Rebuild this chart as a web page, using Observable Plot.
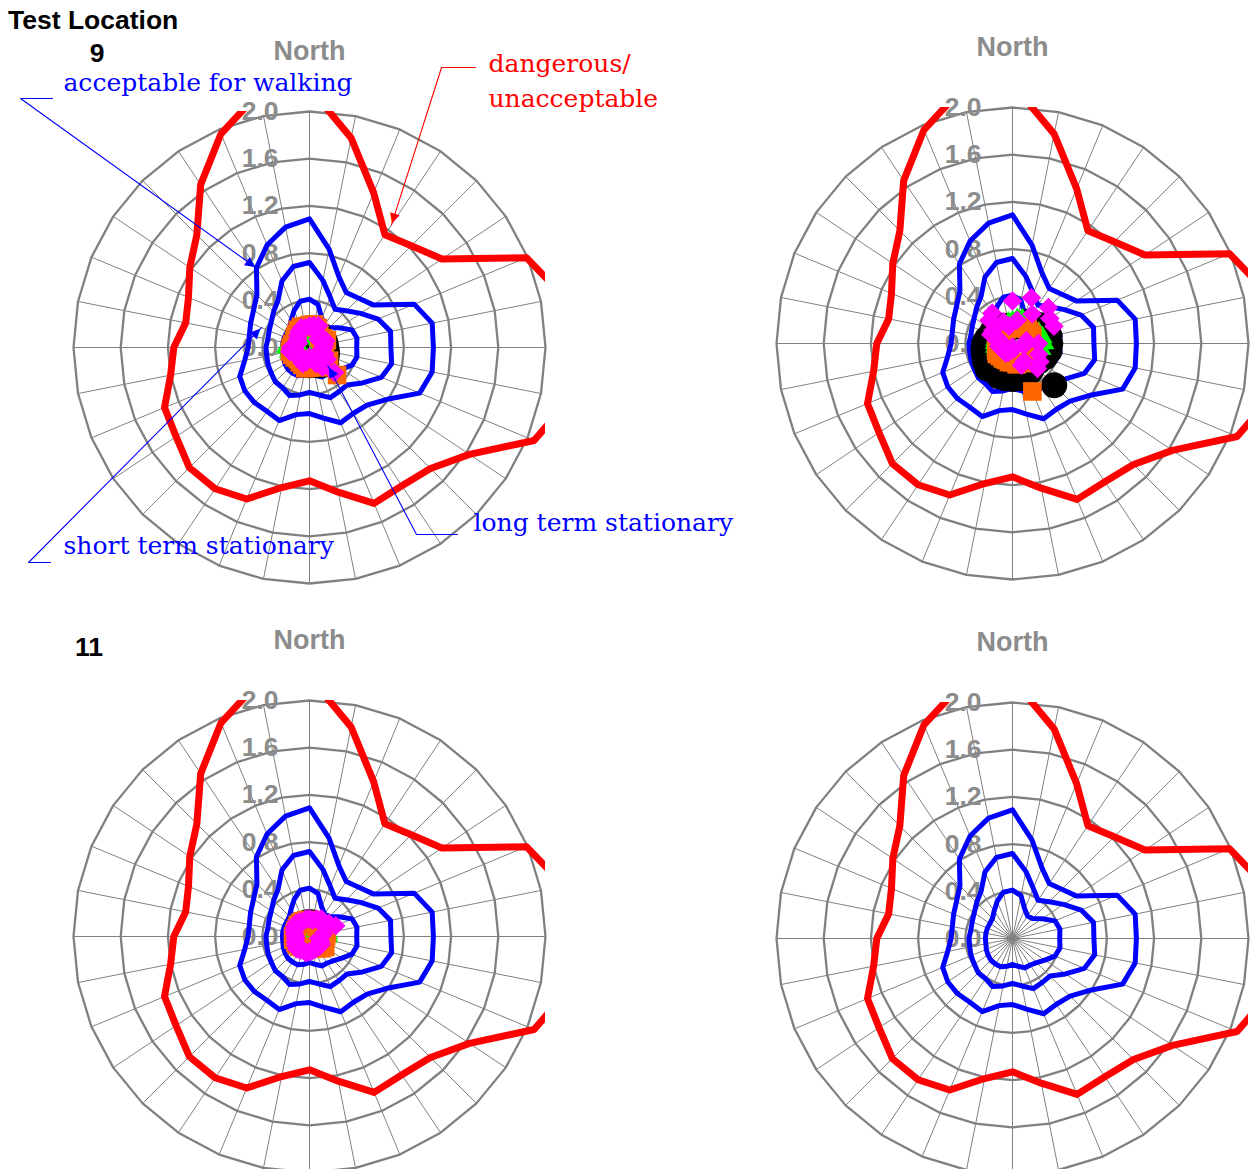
<!DOCTYPE html>
<html>
<head>
<meta charset="utf-8">
<script src="https://cdn.jsdelivr.net/npm/d3@7"></script>
<script src="https://cdn.jsdelivr.net/npm/@observablehq/plot@0.6"></script>
<style>
html,body{margin:0;padding:0;background:#fff;}
body{width:1250px;height:1169px;position:relative;overflow:hidden;font-family:"Liberation Sans",Arial,sans-serif;}
.panel{position:absolute;width:492px;height:557px;}
.panel svg{max-width:none !important;width:492px;height:557px;}
.hdr{position:absolute;font-weight:bold;color:#000;line-height:1;white-space:nowrap;font-size:26.5px;}
</style>
</head>
<body>
<div class="hdr" id="title" style="left:8px;top:7px;"></div>
<div class="hdr" id="loc0" style="left:97px;top:40px;transform:translateX(-50%);"></div>
<div class="hdr" id="loc1" style="left:89px;top:634px;transform:translateX(-50%);"></div>
<div id="ul" class="panel" style="left:63px;top:36px;"></div>
<div id="ur" class="panel" style="left:766px;top:32px;"></div>
<div id="ll" class="panel" style="left:63px;top:625px;"></div>
<div id="lr" class="panel" style="left:766px;top:627px;"></div>
<script>
// ---------- data ----------
const titleText = "Test Location";
const locationLabels = ["9", "11"];
const axisLabel = "North";
const directions = d3.range(32).map(i => i * 11.25); // compass bearings, clockwise from North
const ringValues = [0.4, 0.8, 1.2, 1.6, 2.0];
const tickValues = [0, 0.4, 0.8, 1.2, 1.6, 2.0];
const tickLabels = ["0.0", "0.4", "0.8", "1.2", "1.6", "2.0"];

// criteria contours (32 directions)
const dangerous = [2.2, 1.81, 1.42, 1.15, 1.22, 1.35, 1.99, 2.2, 2.3, 2.25, 2.06, 1.63, 1.45, 1.41, 1.43, 1.25,
                   1.13, 1.21, 1.39, 1.44, 1.44, 1.36, 1.33, 1.2, 1.15, 1.07, 1.11, 1.22, 1.35, 1.66, 1.96, 2.2];
const walking   = [1.09, 0.85, 0.65, 0.56, 0.59, 0.65, 0.96, 1.06, 1.05, 1.06, 1.01, 0.79, 0.69, 0.67, 0.69, 0.61,
                   0.56, 0.58, 0.67, 0.65, 0.66, 0.66, 0.64, 0.56, 0.52, 0.52, 0.54, 0.57, 0.63, 0.81, 0.94, 1.04];
const shortTerm = [0.72, 0.58, 0.46, 0.39, 0.44, 0.52, 0.63, 0.70, 0.69, 0.71, 0.66, 0.54, 0.45, 0.45, 0.46, 0.41,
                   0.38, 0.41, 0.44, 0.41, 0.41, 0.39, 0.38, 0.37, 0.37, 0.36, 0.37, 0.39, 0.43, 0.48, 0.61, 0.70];
const longTerm  = [0.41, 0.37, 0.27, 0.23, 0.24, 0.30, 0.39, 0.41, 0.40, 0.41, 0.39, 0.33, 0.29, 0.27, 0.27, 0.24,
                   0.22, 0.24, 0.26, 0.26, 0.26, 0.25, 0.24, 0.23, 0.23, 0.23, 0.23, 0.23, 0.24, 0.28, 0.34, 0.40];

// measured points, upper-left panel (location 9)
const ulBlack   = [0.16, 0.16, 0.15, 0.14, 0.13, 0.13, 0.14, 0.14, 0.14, 0.15, 0.16, 0.17, 0.20, 0.18, 0.16, 0.15,
                   0.15, 0.15, 0.14, 0.14, 0.14, 0.13, 0.12, 0.12, 0.12, 0.12, 0.12, 0.13, 0.14, 0.15, 0.16, 0.16];
const ulGreen   = [0.12, 0.11, 0.10, 0.10, 0.10, 0.10, 0.10, 0.10, 0.10, 0.10, 0.10, 0.10, 0.10, 0.10, 0.10, 0.10,
                   0.10, 0.10, 0.10, 0.10, 0.10, 0.12, 0.15, 0.18, 0.20, 0.15, 0.12, 0.12, 0.12, 0.12, 0.12, 0.12];
const ulOrange  = [0.19, 0.20, 0.18, 0.15, 0.12, 0.14, 0.16, 0.12, 0.10, 0.12, 0.14, 0.20, 0.33, 0.20, 0.18, 0.16,
                   0.17, 0.18, 0.16, 0.15, 0.14, 0.15, 0.16, 0.17, 0.16, 0.15, 0.14, 0.15, 0.16, 0.18, 0.19, 0.18];
const ulMagenta = [0.18, 0.19, 0.20, 0.14, 0.10, 0.12, 0.15, 0.13, 0.12, 0.10, 0.14, 0.18, 0.30, 0.20, 0.15, 0.10,
                   0.08, 0.12, 0.15, 0.13, 0.12, 0.10, 0.14, 0.17, 0.16, 0.12, 0.10, 0.12, 0.14, 0.16, 0.18, 0.17];
// upper-right panel
const urBlack   = [0.14, 0.15, 0.18, 0.22, 0.25, 0.28, 0.30, 0.32, 0.32, 0.32, 0.30, 0.27, 0.50, 0.28, 0.28, 0.30,
                   0.30, 0.30, 0.30, 0.28, 0.30, 0.28, 0.26, 0.25, 0.24, 0.22, 0.20, 0.20, 0.20, 0.18, 0.16, 0.15];
const urGreen   = [0.19, 0.21, 0.22, 0.21, 0.20, 0.22, 0.24, 0.26, 0.27, 0.25, 0.22, 0.20, 0.20, 0.20, 0.19, 0.18,
                   0.18, 0.17, 0.17, 0.16, 0.16, 0.16, 0.15, 0.15, 0.15, 0.15, 0.15, 0.15, 0.16, 0.16, 0.17, 0.18];
const urOrange  = [0.13, 0.14, 0.15, 0.16, 0.18, 0.18, 0.18, 0.17, 0.17, 0.17, 0.18, 0.20, 0.22, 0.20, 0.44, 0.18,
                   0.16, 0.16, 0.15, 0.15, 0.15, 0.16, 0.15, 0.13, 0.12, 0.12, 0.12, 0.13, 0.14, 0.13, 0.13, 0.13];
const urMagenta = [0.36, 0.20, 0.42, 0.30, 0.43, 0.38, 0.38, 0.12, 0.22, 0.10, 0.24, 0.28, 0.30, 0.18, 0.20, 0.05,
                   0.03, 0.05, 0.08, 0.10, 0.09, 0.10, 0.10, 0.12, 0.09, 0.10, 0.20, 0.20, 0.28, 0.31, 0.20, 0.15];
// lower-left panel (location 11)
const llBlack   = [0.12, 0.12, 0.11, 0.10, 0.10, 0.10, 0.10, 0.10, 0.10, 0.10, 0.09, 0.09, 0.08, 0.08, 0.07, 0.07,
                   0.07, 0.07, 0.07, 0.08, 0.08, 0.09, 0.10, 0.10, 0.10, 0.10, 0.10, 0.11, 0.11, 0.12, 0.12, 0.12];
const llGreen   = [0.08, 0.08, 0.09, 0.10, 0.11, 0.12, 0.14, 0.16, 0.16, 0.12, 0.10, 0.09, 0.08, 0.08, 0.08, 0.08,
                   0.08, 0.08, 0.08, 0.08, 0.08, 0.08, 0.08, 0.08, 0.08, 0.08, 0.08, 0.08, 0.08, 0.08, 0.08, 0.08];
const llOrange  = [0.14, 0.13, 0.12, 0.10, 0.10, 0.12, 0.14, 0.15, 0.14, 0.12, 0.13, 0.16, 0.14, 0.12, 0.10, 0.10,
                   0.10, 0.10, 0.10, 0.11, 0.12, 0.13, 0.13, 0.14, 0.14, 0.13, 0.13, 0.13, 0.14, 0.14, 0.14, 0.14];
const llMagenta = [0.15, 0.14, 0.16, 0.18, 0.15, 0.20, 0.24, 0.12, 0.10, 0.08, 0.10, 0.12, 0.12, 0.11, 0.12, 0.12,
                   0.13, 0.14, 0.13, 0.14, 0.15, 0.14, 0.13, 0.12, 0.12, 0.13, 0.14, 0.15, 0.16, 0.15, 0.14, 0.15];

// ---------- styling / layout ----------
const GRID = "#808080", LABEL = "#8c8c8c", RED = "#ff0000", BLUE = "#0000ff";
const S = 118;                                   // pixels per unit
const M = {top: 75, right: 10, bottom: 10, left: 10};
const markerStyles = [
  {symbol: "circle",   fill: "#000000", r: 13},
  {symbol: "triangle", fill: "#00ff00", r: 7.5},
  {symbol: "square",   fill: "#ff6600", r: 10.5},
  {symbol: "diamond2", fill: "#ff00ff", r: 8.8}
];
const annotations = [
  {label: "acceptable for walking", color: BLUE, values: walking, dir: 29, offset: 0.0,
   at: [-2.085, 2.17], leader: [[-2.178, 2.110], [-2.449, 2.110]]},
  {label: "dangerous/\nunacceptable", color: RED, values: dangerous, dir: 3, offset: 0.1,
   at: [1.517, 2.034], leader: [[1.407, 2.373], [1.119, 2.373]]},
  {label: "short term stationary", color: BLUE, values: shortTerm, dir: 26, offset: 0.07,
   at: [-2.085, -1.746], leader: [[-2.195, -1.822], [-2.381, -1.822]]},
  {label: "long term stationary", color: BLUE, values: longTerm, dir: 12, offset: -0.07,
   at: [1.390, -1.551], leader: [[1.254, -1.585], [0.907, -1.585]]}
];

const rad = i => directions[i] * Math.PI / 180;
const polar = vals => vals.map((v, i) => ({x: v * Math.sin(rad(i)), y: v * Math.cos(rad(i))}));

function annotationMarks() {
  const out = [];
  for (const a of annotations) {
    const v = a.values[a.dir] + a.offset;
    const tip = [v * Math.sin(rad(a.dir)), v * Math.cos(rad(a.dir))];
    const pts = [...a.leader, tip].map(([x, y]) => ({x, y}));
    out.push(Plot.line(pts, {x: "x", y: "y", stroke: a.color, strokeWidth: 1.1}));
    const c = a.leader[1];
    let ux = tip[0] - c[0], uy = tip[1] - c[1];
    const n = Math.hypot(ux, uy); ux /= n; uy /= n;
    const back = 6 / S;
    out.push(Plot.text([a], {
      x: () => tip[0] - ux * back, y: () => tip[1] - uy * back, text: () => "\u25B2",
      rotate: Math.atan2(ux, uy) * 180 / Math.PI, fill: a.color, fontSize: 13,
      fontFamily: "DejaVu Sans", textAnchor: "middle", lineAnchor: "middle"
    }));
    out.push(Plot.text([a], {
      x: () => a.at[0], y: () => a.at[1], text: d => d.label, textAnchor: "start",
      lineAnchor: "bottom", lineHeight: 1.4, fill: a.color, fontSize: 25, fontFamily: "DejaVu Serif"
    }));
  }
  return out;
}

function radar(markers, annotate) {
  const rings = ringValues.flatMap(r => directions.map((d, i) => ({r, x: r * Math.sin(rad(i)), y: r * Math.cos(rad(i))})));
  const spokes = directions.map((d, i) => ({x: 2 * Math.sin(rad(i)), y: 2 * Math.cos(rad(i))}));
  const lineOpts = (stroke, w) => ({x: "x", y: "y", curve: "linear-closed", stroke, strokeWidth: w,
                                    strokeLinejoin: "round", clip: true});
  const marks = [
    Plot.link(spokes, {x1: () => 0, y1: () => 0, x2: "x", y2: "y", stroke: GRID, strokeWidth: 1}),
    Plot.line(rings, {x: "x", y: "y", z: "r", curve: "linear-closed", stroke: GRID, strokeWidth: 2.3}),
    Plot.text(tickValues, {x: () => 0, y: d => d, text: (d, i) => tickLabels[i], textAnchor: "end", dx: -31,
                           fill: LABEL, fontSize: 26.5, fontWeight: "bold", fontFamily: "Liberation Sans"}),
    Plot.text([axisLabel], {x: () => 0, y: () => 2, text: d => d, dy: -60, fill: LABEL, fontSize: 27,
                            fontWeight: "bold", fontFamily: "Liberation Sans"}),
    Plot.line(polar(dangerous), lineOpts(RED, 7)),
    Plot.line(polar(walking), lineOpts(BLUE, 5)),
    Plot.line(polar(shortTerm), lineOpts(BLUE, 5)),
    Plot.line(polar(longTerm), lineOpts(BLUE, 5))
  ];
  markers.forEach((vals, k) => {
    const st = markerStyles[k];
    marks.push(Plot.dot(polar(vals), {x: "x", y: "y", symbol: st.symbol, r: st.r, fill: st.fill, stroke: "none", clip: true}));
  });
  if (annotate) marks.push(...annotationMarks());
  return Plot.plot({
    width: 4 * S + M.left + M.right, height: 4 * S + M.top + M.bottom,
    marginTop: M.top, marginRight: M.right, marginBottom: M.bottom, marginLeft: M.left,
    x: {domain: [-2, 2], axis: null}, y: {domain: [-2, 2], axis: null},
    style: {background: "transparent", overflow: "visible", fontFamily: "Liberation Sans, Arial, sans-serif"},
    marks
  });
}

document.getElementById("title").textContent = titleText;
document.getElementById("loc0").textContent = locationLabels[0];
document.getElementById("loc1").textContent = locationLabels[1];
document.getElementById("ul").append(radar([ulBlack, ulGreen, ulOrange, ulMagenta], true));
document.getElementById("ur").append(radar([urBlack, urGreen, urOrange, urMagenta], false));
document.getElementById("ll").append(radar([llBlack, llGreen, llOrange, llMagenta], false));
document.getElementById("lr").append(radar([], false));
</script>
</body>
</html>
